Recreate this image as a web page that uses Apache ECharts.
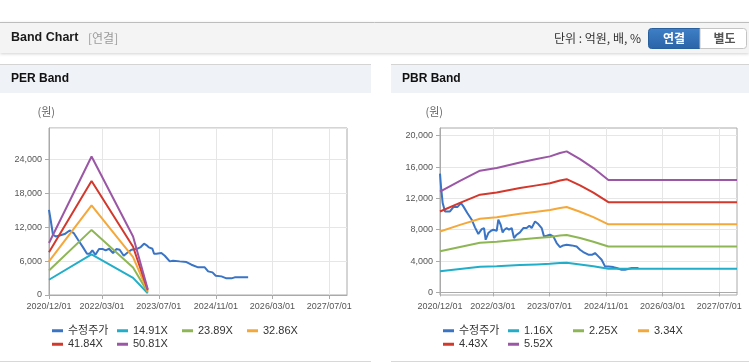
<!DOCTYPE html>
<html>
<head>
<meta charset="utf-8">
<script src="https://cdn.jsdelivr.net/npm/echarts@6/dist/echarts.min.js"></script>
<style>
  html, body { margin: 0; padding: 0; background: #fff; }
  #chart { width: 749px; height: 364px; }
</style>
</head>
<body>
<div id="chart"></div>
<script>
// ---- data ------------------------------------------------------------------
const X_TICKS = ['2020-12-01', '2022-03-01', '2023-07-01', '2024-11-01', '2026-03-01', '2027-07-01'];

// PER chart
const perLegend = ['수정주가', '14.91X', '23.89X', '32.86X', '41.84X', '50.81X'];
const perPriceDates = ['2020-12-01','2020-12-15','2021-01-04','2021-01-27','2021-03-03','2021-04-14','2021-05-27','2021-07-01','2021-08-07','2021-09-19','2021-10-23','2021-11-15','2021-12-08','2022-01-03','2022-02-03','2022-03-09','2022-04-01','2022-04-30','2022-06-03','2022-07-02','2022-07-30','2022-09-03','2022-10-01','2022-11-08','2022-12-21','2023-01-27','2023-02-24','2023-03-16','2023-04-08','2023-05-07','2023-05-21','2023-06-10','2023-07-23','2023-08-21','2023-10-03','2023-10-31','2023-12-27','2024-02-23','2024-04-06','2024-06-02','2024-07-29','2024-08-27','2024-10-03','2024-10-31','2024-12-19','2025-01-31','2025-03-15','2025-04-12','2025-06-09','2025-08-05'];
const perPrice = [15050,13290,10640,10350,10525,10760,11400,10940,9760,8410,7290,7290,7880,7115,8115,8115,7880,8170,7410,8115,8000,6940,7410,8000,8115,8470,9055,8820,8410,8170,7290,7290,7410,6940,5940,6060,5940,5820,5350,4880,4880,4175,4000,3410,3290,2940,2940,3115,3115,3115];
const perBandDates = ['2020-12-01', '2021-12-01', '2022-11-22', '2023-03-28'];
const perBand1 = [2694, 7178, 3034, 298];
const perBand2 = [4317, 11501, 4862, 478];
const perBand3 = [5938, 15819, 6687, 657];
const perBand4 = [7560, 20142, 8514, 837];
const perBand5 = [9181, 24460, 10340, 1016];

// PBR chart
const pbrLegend = ['수정주가', '1.16X', '2.25X', '3.34X', '4.43X', '5.52X'];
const pbrPriceDates = ['2020-12-01','2020-12-10','2020-12-24','2021-01-13','2021-02-25','2021-03-26','2021-04-29','2021-05-31','2021-06-20','2021-07-24','2021-08-31','2021-09-28','2021-10-27','2021-11-10','2021-11-25','2021-12-15','2021-12-29','2022-01-21','2022-02-13','2022-03-05','2022-03-19','2022-04-03','2022-04-17','2022-05-07','2022-05-24','2022-06-08','2022-06-28','2022-07-18','2022-08-10','2022-08-30','2022-09-22','2022-10-20','2022-11-18','2022-12-17','2023-01-09','2023-01-29','2023-02-27','2023-03-27','2023-04-25','2023-05-15','2023-06-07','2023-07-06','2023-08-03','2023-09-01','2023-09-30','2023-10-28','2023-11-26','2024-01-08','2024-02-20','2024-03-20','2024-04-17','2024-05-31','2024-07-04','2024-07-27','2024-08-25','2024-09-22','2024-10-21','2024-11-19','2025-01-01','2025-01-29','2025-03-13','2025-04-11','2025-06-09','2025-08-05'];
const pbrPrice = [15150,13450,11400,10340,10340,10890,10890,11400,10980,10130,9280,8300,7450,7570,8080,8210,6720,7570,7870,8000,8210,7870,9280,8640,7660,8000,8210,8000,8210,6940,7360,7660,8210,8210,8510,8210,9060,8720,8210,7150,7230,7360,7150,6300,5790,6000,6080,6000,5870,5450,5150,4810,4810,5020,4600,4170,3320,3320,3230,3110,2890,2890,3115,3115];
const pbrBandDates = ['2020-12-01','2021-05-22','2021-11-10','2022-04-03','2022-10-20','2023-03-13','2023-07-06','2023-09-30','2023-11-26','2024-03-20','2024-07-13','2024-11-19','2027-12-01'];
const pbrBand1 = [2703, 2993, 3265, 3335, 3486, 3576, 3648, 3739, 3783, 3576, 3335, 3016, 3016];
const pbrBand2 = [5243, 5805, 6334, 6469, 6761, 6937, 7076, 7252, 7337, 6937, 6469, 5850, 5850];
const pbrBand3 = [7782, 8617, 9402, 9603, 10037, 10297, 10504, 10765, 10892, 10297, 9603, 8684, 8684];
const pbrBand4 = [10322, 11429, 12470, 12736, 13312, 13658, 13932, 14278, 14446, 13658, 12736, 11518, 11518];
const pbrBand5 = [12862, 14242, 15539, 15870, 16588, 17018, 17360, 17791, 18001, 17018, 15870, 14352, 14352];
const PBR_Y_LABELS = [0, 4000, 8000, 12000, 16000, 20000];

// ---- styles -----------------------------------------------------------------
const COLORS = ['#3a74c5', '#22aec8', '#8fb654', '#f5a83a', '#d3382d', '#9b57a5'];
const FONT = '"Liberation Sans", "Noto Sans CJK KR", sans-serif';
const KFONT = '"Noto Sans CJK KR", "Liberation Sans", sans-serif';

const chart = echarts.init(document.getElementById('chart'));
const tp = s => +echarts.time.parse(s);
const pairs = (dates, vals) => dates.map((d, i) => [tp(d), vals[i]]);
const xTickVals = X_TICKS.map(tp);

function xAxisFor(gridIndex) {
  return {
    type: 'value', gridIndex,
    min: tp('2020-12-01'), max: tp('2027-12-01'),
    axisLine: { lineStyle: { color: '#aaaaaa' } },
    axisTick: { show: true, length: 4, customValues: xTickVals, lineStyle: { color: '#aaaaaa' } },
    axisLabel: {
      customValues: xTickVals, margin: 7, color: '#555', fontSize: 9, fontFamily: FONT,
      hideOverlap: false,
      formatter: v => echarts.time.format(v, '{yyyy}/{MM}/{dd}', false)
    },
    splitLine: { show: true, lineStyle: { color: '#e6e6e6' } }
  };
}
function yAxisCommon() {
  return {
    type: 'value',
    name: '(원)', nameLocation: 'end', nameGap: 11,
    nameTextStyle: { color: '#666', fontSize: 11, fontFamily: KFONT, align: 'right' },
    axisLine: { show: true, lineStyle: { color: '#aaaaaa' } },
    axisTick: { show: true, length: 4, lineStyle: { color: '#aaaaaa' } },
    axisLabel: { color: '#555', fontSize: 9, fontFamily: FONT, margin: 7,
      formatter: v => v.toLocaleString('en-US') },
    splitLine: { show: true, lineStyle: { color: '#e6e6e6' } }
  };
}
function line(name, data, idx, color) {
  return {
    name, type: 'line', data, xAxisIndex: idx, yAxisIndex: idx,
    showSymbol: false, symbol: 'none', smooth: false,
    lineStyle: { width: 2, color }, itemStyle: { color }, emphasis: { disabled: true }
  };
}
function legendFor(names, left) {
  return {
    data: names, left, top: 324, width: 262, orient: 'horizontal', padding: 0,
    icon: 'rect', itemWidth: 11, itemHeight: 3, itemGap: 0,
    textStyle: { color: '#333', fontSize: 11, fontFamily: FONT, width: 49, lineHeight: 13.5 },
    selectedMode: false
  };
}

const perY = Object.assign(yAxisCommon(), { gridIndex: 0, min: 0, max: 29500, interval: 6000 });
perY.nameTextStyle.padding = [0, -6, 0, 0];
perY.axisLabel.showMaxLabel = false;

const pbrY = Object.assign(yAxisCommon(), { gridIndex: 1, min: -330, max: 20980 });
pbrY.nameTextStyle.padding = [0, -3, 0, 0];
pbrY.axisLabel.customValues = PBR_Y_LABELS;
pbrY.axisTick.customValues = PBR_Y_LABELS;

// page chrome
const graphic = [
  { type: 'rect', shape: { x: 0, y: 22, width: 749, height: 31 },
    style: { fill: '#f4f4f4', shadowBlur: 3, shadowColor: 'rgba(0,0,0,0.18)', shadowOffsetY: 1 }, z: -10 },
  { type: 'line', shape: { x1: 0, y1: 22.5, x2: 749, y2: 22.5 }, style: { stroke: '#bdbdbd', lineWidth: 1 }, z: -9 },
  { type: 'text', x: 11, y: 38, style: { text: 'Band Chart', fill: '#1a1a1a', font: 'bold 12.5px ' + FONT, verticalAlign: 'middle' } },
  { type: 'text', x: 88, y: 38, style: { text: '[연결]', fill: '#9a9a9a', font: '12px ' + KFONT, verticalAlign: 'middle' } },
  { type: 'text', x: 641, y: 38, style: { text: '단위 : 억원, 배, %', fill: '#333', font: '12px ' + KFONT, align: 'right', verticalAlign: 'middle' } },
  { type: 'rect', shape: { x: 648.5, y: 28.5, width: 51.5, height: 20, r: [3, 0, 0, 3] },
    style: { fill: new echarts.graphic.LinearGradient(0, 0, 0, 1, [{ offset: 0, color: '#3f80c6' }, { offset: 1, color: '#2a63a8' }]), stroke: '#2a5f9e', lineWidth: 1 } },
  { type: 'text', x: 674, y: 38.5, style: { text: '연결', fill: '#fff', font: 'bold 12px ' + KFONT, align: 'center', verticalAlign: 'middle' } },
  { type: 'rect', shape: { x: 700, y: 28.5, width: 46.5, height: 20, r: [0, 3, 3, 0] },
    style: { fill: '#fff', stroke: '#c4c4c4', lineWidth: 1 } },
  { type: 'text', x: 724.5, y: 38.5, style: { text: '별도', fill: '#555', font: 'bold 12px ' + KFONT, align: 'center', verticalAlign: 'middle' } },

  // panels
  { type: 'rect', shape: { x: 0, y: 64, width: 371, height: 29 }, style: { fill: '#eff2f7' }, z: -10 },
  { type: 'line', shape: { x1: 0, y1: 64.5, x2: 371, y2: 64.5 }, style: { stroke: '#d4d4d4', lineWidth: 1 }, z: -9 },
  { type: 'text', x: 11, y: 79, style: { text: 'PER Band', fill: '#111', font: 'bold 12px ' + FONT, verticalAlign: 'middle' } },
  { type: 'line', shape: { x1: 0, y1: 361.5, x2: 371, y2: 361.5 }, style: { stroke: '#d8d8d8', lineWidth: 1 }, z: -9 },

  { type: 'rect', shape: { x: 391, y: 64, width: 358, height: 29 }, style: { fill: '#eff2f7' }, z: -10 },
  { type: 'line', shape: { x1: 391, y1: 64.5, x2: 749, y2: 64.5 }, style: { stroke: '#d4d4d4', lineWidth: 1 }, z: -9 },
  { type: 'text', x: 402, y: 79, style: { text: 'PBR Band', fill: '#111', font: 'bold 12px ' + FONT, verticalAlign: 'middle' } },
  { type: 'line', shape: { x1: 391, y1: 361.5, x2: 749, y2: 361.5 }, style: { stroke: '#d8d8d8', lineWidth: 1 }, z: -9 }
];

const opt = {
  animation: false,
  backgroundColor: '#fff',
  graphic,
  grid: [
    { left: 49, top: 128, width: 298, height: 167, show: true, borderColor: '#aaaaaa', borderWidth: 1, backgroundColor: 'transparent' },
    { left: 440, top: 128, width: 297, height: 167, show: true, borderColor: '#aaaaaa', borderWidth: 1, backgroundColor: 'transparent' }
  ],
  legend: [legendFor(perLegend, 52), legendFor(pbrLegend, 443)],
  xAxis: [xAxisFor(0), xAxisFor(1)],
  yAxis: [perY, pbrY],
  series: [
    line(perLegend[0], pairs(perPriceDates, perPrice), 0, COLORS[0]),
    line(perLegend[1], pairs(perBandDates, perBand1), 0, COLORS[1]),
    line(perLegend[2], pairs(perBandDates, perBand2), 0, COLORS[2]),
    line(perLegend[3], pairs(perBandDates, perBand3), 0, COLORS[3]),
    line(perLegend[4], pairs(perBandDates, perBand4), 0, COLORS[4]),
    line(perLegend[5], pairs(perBandDates, perBand5), 0, COLORS[5]),
    line(pbrLegend[0], pairs(pbrPriceDates, pbrPrice), 1, COLORS[0]),
    line(pbrLegend[1], pairs(pbrBandDates, pbrBand1), 1, COLORS[1]),
    line(pbrLegend[2], pairs(pbrBandDates, pbrBand2), 1, COLORS[2]),
    line(pbrLegend[3], pairs(pbrBandDates, pbrBand3), 1, COLORS[3]),
    line(pbrLegend[4], pairs(pbrBandDates, pbrBand4), 1, COLORS[4]),
    line(pbrLegend[5], pairs(pbrBandDates, pbrBand5), 1, COLORS[5])
  ]
};
chart.setOption(opt);
</script>
</body>
</html>
